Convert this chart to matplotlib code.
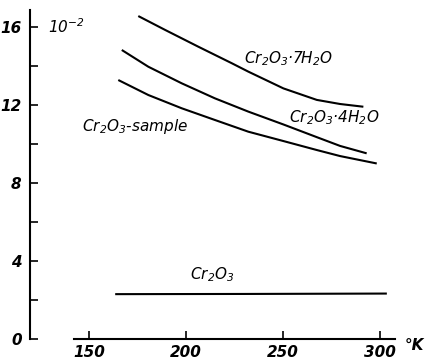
import matplotlib
matplotlib.use("Agg")
import matplotlib.pyplot as plt

# temperature (K) and value (x 10^-2)
t_7h2o = [175.4, 189.2, 206.3, 223.6, 232.1, 250.2, 267.4, 279.4, 291.4]
v_7h2o = [16.56, 15.85, 14.99, 14.14, 13.71, 12.85, 12.26, 12.05, 11.91]

t_4h2o = [166.9, 180.6, 197.8, 214.9, 232.1, 250.2, 267.4, 279.4, 293.1]
v_4h2o = [14.82, 13.96, 13.11, 12.34, 11.66, 11.00, 10.35, 9.90, 9.52]

t_sample = [165.1, 180.6, 197.8, 214.9, 232.1, 250.2, 267.4, 279.4, 298.3]
v_sample = [13.28, 12.51, 11.83, 11.23, 10.63, 10.15, 9.69, 9.38, 9.00]

t_cr2o3 = [163.5, 230.0, 303.5]
v_cr2o3 = [2.30, 2.31, 2.33]

x_ticks = [150, 200, 250, 300]
y_ticks = [0, 4, 8, 12, 16]
y_minor = [2, 6, 10, 14]

plt.rcParams["font.family"] = "DejaVu Sans"
plt.rcParams["font.style"] = "italic"
plt.rcParams["mathtext.default"] = "it"

fig = plt.figure(figsize=(4.4, 3.62), dpi=100)
ax = fig.add_axes([30 / 440, 23 / 362, 365 / 440, 329 / 362])

for t, v in [(t_7h2o, v_7h2o), (t_4h2o, v_4h2o), (t_sample, v_sample), (t_cr2o3, v_cr2o3)]:
    ax.plot(t, v, color="black", linewidth=1.5, solid_capstyle="butt",
            solid_joinstyle="round")

ax.set_xlim(119.6, 307.7)
ax.set_ylim(0, 16.87)
for s in ("top", "right"):
    ax.spines[s].set_visible(False)
ax.spines["bottom"].set_bounds(142.3, 307.7)
ax.spines["left"].set_linewidth(1.5)
ax.spines["bottom"].set_linewidth(1.5)

ax.set_xticks(x_ticks)
ax.set_yticks(y_ticks)
ax.set_yticks(y_minor, minor=True)
ax.tick_params(axis="both", which="both", direction="in", length=6, width=1.2,
               labelsize=11, pad=4)
ax.tick_params(axis="y", pad=6)
for lbl in ax.get_xticklabels() + ax.get_yticklabels():
    lbl.set_fontweight("bold")

kw = dict(fontsize=11, ha="center", va="center")
ax.text(252.6, 14.4, "Cr$_2$O$_3$·7H$_2$O", **kw)
ax.text(276.3, 11.35, "Cr$_2$O$_3$·4H$_2$O", **kw)
ax.text(146.4, 10.9, "Cr$_2$O$_3$-sample", fontsize=11, ha="left", va="center")
ax.text(213.4, 3.3, "Cr$_2$O$_3$", **kw)
ax.text(128.9, 16.0, "10$^{-2}$", fontsize=11, ha="left", va="center")
fig.text(405 / 440, 1 - 346 / 362, "°K", fontsize=11, fontweight="bold",
         ha="left", va="center")

fig.savefig("out.png", dpi=100)
